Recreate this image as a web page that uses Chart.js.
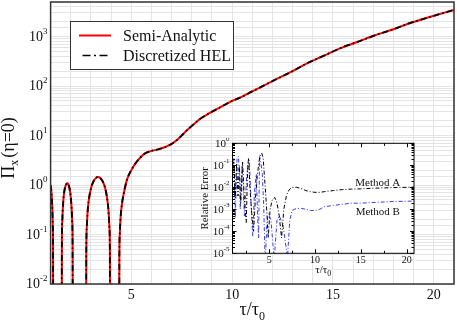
<!DOCTYPE html>
<html>
<head>
<meta charset="utf-8">
<script src="https://cdn.jsdelivr.net/npm/chart.js@4.4.1/dist/chart.umd.min.js"></script>
<style>
  html, body { margin: 0; padding: 0; background: #fff; }
  #wrap { position: relative; width: 457px; height: 323px; }
  #mainChart { position: absolute; left: 0; top: 0; }
  #insetChart { position: absolute; left: 195px; top: 138px; }
</style>
</head>
<body>
<div id="wrap">
  <canvas id="mainChart" width="457" height="323"></canvas>
  <canvas id="insetChart" width="225" height="142"></canvas>
</div>
<script>
// main curve
const tau = [1.0, 1.03, 1.06, 1.09, 1.11, 1.12, 1.13, 1.3, 1.55, 1.56, 1.58, 1.6, 1.65, 1.7, 1.76, 1.82, 1.88, 1.94, 1.99, 2.04, 2.07, 2.09, 2.1,
  2.4, 2.76, 2.77, 2.795, 2.83, 2.88, 3.0, 3.12, 3.24, 3.35, 3.47, 3.59, 3.71, 3.83, 3.88, 3.915, 3.94, 3.95, 4.15, 4.40,
  4.41, 4.43, 4.47, 4.55, 4.65, 4.79, 5.0, 5.2, 5.45, 5.7, 6.0, 6.28, 6.55, 6.78, 7.05, 7.35, 7.55, 7.77, 8.1, 8.43, 8.85,
  9.26, 9.6, 10.0, 10.42, 11.0, 12.0, 13.0, 13.74, 14.5, 15.4, 16.2, 17.05, 18.0, 18.72, 19.5, 20.0, 21.0];
const semiAnalytic = [1.0, 0.8, 0.55, 0.3, 0.15, 0.07, 0.001, 0.001, 0.001, 0.07, 0.19, 0.3, 0.6, 0.83, 1.0, 1.1, 1.03, 0.85, 0.62, 0.35, 0.19, 0.07, 0.001,
  0.001, 0.001, 0.045, 0.14, 0.27, 0.45, 0.85, 1.17, 1.38, 1.45, 1.38, 1.17, 0.85, 0.45, 0.27, 0.14, 0.045, 0.001, 0.001, 0.001,
  0.04, 0.1, 0.22, 0.45, 0.75, 1.3, 2.0, 2.7, 3.6, 4.4, 4.9, 5.2, 5.6, 6.1, 7.0, 8.7, 10.5, 12.9, 17, 22, 28,
  34.5, 41, 50, 59, 78, 126, 200, 292, 403, 590, 776, 1050, 1410, 1820, 2290, 2630, 3470];
const discretizedHEL = semiAnalytic.slice();

// inset: relative error
const tauA = [1.0, 1.15, 1.3, 1.45, 1.6, 1.75, 1.9, 2.1, 2.3, 2.5, 2.65, 2.75, 2.9, 3.1, 3.3, 3.5, 3.7, 3.9, 4.05, 4.2, 4.35, 4.5, 4.7, 4.9,
  5.1, 5.35, 5.6, 5.85, 6.1, 6.35, 6.6, 6.9, 7.2, 7.5, 8.0, 8.5, 9.0, 9.5, 10.0, 10.5, 11.0, 12.0, 13.0, 14.0, 15.0, 16.0, 17.0, 18.0, 19.0, 20.0, 20.8];
const methodA = [0.1, 0.158, 0.0032, 0.126, 0.004, 0.1, 0.002, 0.141, 0.0025, 0.00025, 0.063, 0.2, 0.01, 0.00063, 0.0001, 0.0032, 0.032, 0.158, 0.316, 0.355, 0.2, 0.025, 0.0016, 5e-5,
  0.001, 0.0028, 0.0035, 0.002, 0.0005, 5e-5, 0.001, 0.0045, 0.0079, 0.01, 0.01, 0.0087, 0.0071, 0.0063, 0.0059, 0.0059, 0.0063, 0.0071, 0.0079, 0.0083, 0.0085, 0.0089, 0.0093, 0.0095, 0.0098, 0.01, 0.0102];
const tauB = [1.0, 1.15, 1.3, 1.5, 1.66, 1.85, 2.05, 2.3, 2.55, 2.75, 2.85, 3.0, 3.2, 3.4, 3.6, 3.75, 3.85, 3.95, 4.1, 4.25, 4.4, 4.57, 4.75, 4.93,
  5.2, 5.55, 5.85, 6.1, 6.5, 7.0, 7.25, 7.5, 8.0, 8.5, 9.0, 9.5, 10.0, 10.5, 11.0, 12.0, 13.0, 14.0, 15.0, 16.0, 17.0, 18.0, 19.0, 20.0, 20.8];
const methodB = [0.063, 0.2, 0.0004, 0.224, 0.251, 0.001, 0.1, 0.0005, 0.032, 0.2, 0.126, 0.0032, 6.3e-5, 0.0063, 0.04, 0.00032, 5e-5, 0.251, 0.126, 0.04, 0.0016, 3.2e-6, 0.00025, 0.00063,
  0.00032, 5e-6, 0.00032, 0.0005, 0.0002, 6.3e-6, 0.00032, 0.00089, 0.0011, 0.0011, 0.001, 0.00089, 0.00087, 0.001, 0.0013, 0.0015, 0.0017, 0.0019, 0.0019, 0.002, 0.0021, 0.0022, 0.0023, 0.0023, 0.0024];

const mainDecades = [-2, -1, 0, 1, 2, 3];
const insetDecades = [-5, -4, -3, -2, -1, 0];
const insetTauTicks = [5, 10, 15, 20];

const SERIF = '"Liberation Serif", "DejaVu Serif", serif';

function drawPow(ctx, exp, right, y, big, small) {
  ctx.font = big + 'px ' + SERIF;
  const wb = ctx.measureText('10').width;
  ctx.font = small + 'px ' + SERIF;
  const es = exp < 0 ? '-' + (-exp) : String(exp);
  const ws = ctx.measureText(es).width;
  const x0 = right - wb - ws;
  ctx.textBaseline = 'alphabetic';
  ctx.textAlign = 'left';
  ctx.font = big + 'px ' + SERIF;
  ctx.fillText('10', x0, y + big * 0.31);
  ctx.font = small + 'px ' + SERIF;
  ctx.fillText(es, x0 + wb, y - big * 0.2);
}

const mainDecor = {
  id: 'mainDecor',
  afterDatasetsDraw(chart) {
    const ctx = chart.ctx, a = chart.chartArea, ys = chart.scales.y;
    ctx.save();
    ctx.strokeStyle = '#333';
    ctx.lineWidth = 1.5;
    ctx.strokeRect(a.left, a.top, a.right - a.left, a.bottom - a.top);
    ctx.fillStyle = '#111';
    mainDecades.forEach(e => drawPow(ctx, e, a.left - 3, ys.getPixelForValue(Math.pow(10, e)), 14, 9));

    // legend
    ctx.fillStyle = '#fff';
    ctx.fillRect(70, 21, 163, 48);
    ctx.strokeStyle = '#333';
    ctx.lineWidth = 1;
    ctx.strokeRect(70.5, 21.5, 163, 48);
    ctx.strokeStyle = '#ff0000';
    ctx.lineWidth = 2;
    ctx.beginPath(); ctx.moveTo(79, 35.5); ctx.lineTo(111, 35.5); ctx.stroke();
    ctx.strokeStyle = '#000';
    ctx.lineWidth = 1.6;
    ctx.setLineDash([8, 3.5, 2, 3.5]);
    ctx.lineDashOffset = 13.5;
    ctx.beginPath(); ctx.moveTo(79, 55.5); ctx.lineTo(111, 55.5); ctx.stroke();
    ctx.setLineDash([]);
    ctx.fillStyle = '#111';
    ctx.font = '16px ' + SERIF;
    ctx.textAlign = 'left';
    ctx.textBaseline = 'alphabetic';
    ctx.fillText('Semi-Analytic', 123, 41);
    ctx.fillText('Discretized HEL', 123, 61);

    // axis titles
    ctx.font = '18px ' + SERIF;
    const cx = (a.left + a.right) / 2;
    const w1 = ctx.measureText('τ/τ').width;
    ctx.font = '12px ' + SERIF;
    const w2 = ctx.measureText('0').width;
    ctx.font = '18px ' + SERIF;
    ctx.fillText('τ/τ', cx - (w1 + w2) / 2, 315);
    ctx.font = '12px ' + SERIF;
    ctx.fillText('0', cx - (w1 + w2) / 2 + w1, 320);

    ctx.translate(14, (a.top + a.bottom) / 2 + 5);
    ctx.rotate(-Math.PI / 2);
    ctx.font = '18px ' + SERIF;
    const p1 = ctx.measureText('Π').width;
    const p3 = ctx.measureText('(η=0)').width;
    ctx.font = '12px ' + SERIF;
    const p2 = ctx.measureText('x').width;
    const sx = -(p1 + p2 + 2 + p3) / 2;
    ctx.font = '18px ' + SERIF;
    ctx.fillText('Π', sx, 0);
    ctx.fillText('(η=0)', sx + p1 + p2 + 2, 0);
    ctx.font = '12px ' + SERIF;
    ctx.fillText('x', sx + p1, 4);
    ctx.restore();
  }
};

new Chart(document.getElementById('mainChart').getContext('2d'), {
  type: 'line',
  data: {
    datasets: [{
      label: 'Semi-Analytic',
      data: tau.map((t, i) => ({ x: t, y: semiAnalytic[i] })),
      borderColor: '#ff0000',
      borderWidth: 2,
      pointRadius: 0,
      order: 2,
      cubicInterpolationMode: 'monotone'
    }, {
      label: 'Discretized HEL',
      data: tau.map((t, i) => ({ x: t, y: discretizedHEL[i] })),
      borderColor: '#000',
      borderWidth: 1.8,
      borderDash: [6, 3, 1.5, 3],
      pointRadius: 0,
      order: 1,
      cubicInterpolationMode: 'monotone'
    }]
  },
  options: {
    responsive: false,
    animation: false,
    devicePixelRatio: 1,
    layout: { padding: { top: 2, right: 1, left: 0, bottom: 0 } },
    plugins: { legend: { display: false }, tooltip: { enabled: false } },
    scales: {
      x: {
        type: 'linear', min: 1, max: 21,
        afterFit: s => { s.height = 39; },
        grid: { color: '#e4e4e4', drawTicks: false },
        border: { display: false },
        ticks: {
          stepSize: 1, padding: 3, color: '#111', maxRotation: 0, autoSkip: false,
          font: { family: SERIF, size: 14 },
          callback: v => (v % 5 === 0 ? String(v) : '')
        }
      },
      y: {
        type: 'logarithmic', min: 0.01, max: 5000,
        afterFit: s => { s.width = 50.6; },
        grid: { color: '#e4e4e4', drawTicks: false },
        border: { display: false },
        ticks: { display: false, autoSkip: false, callback: () => '' }
      }
    }
  },
  plugins: [mainDecor]
});

const insetDecor = {
  id: 'insetDecor',
  beforeDatasetsDraw(chart) {
    const ctx = chart.ctx, a = chart.chartArea;
    ctx.save();
    ctx.fillStyle = '#fff';
    ctx.fillRect(a.left, a.top, a.right - a.left, a.bottom - a.top);
    ctx.restore();
  },
  afterDatasetsDraw(chart) {
    const ctx = chart.ctx, a = chart.chartArea, xs = chart.scales.x, ys = chart.scales.y;
    ctx.save();
    ctx.strokeStyle = '#000';
    ctx.lineWidth = 1;
    ctx.strokeRect(a.left, a.top, a.right - a.left, a.bottom - a.top);
    ctx.beginPath();
    [2.5, 5, 7.5, 10, 12.5, 15, 17.5, 20].forEach(v => {
      const px = Math.round(xs.getPixelForValue(v)) + 0.5;
      const l = v % 5 === 0 ? 4 : 2.5;
      ctx.moveTo(px, a.bottom); ctx.lineTo(px, a.bottom - l);
      ctx.moveTo(px, a.top); ctx.lineTo(px, a.top + l);
    });
    insetDecades.forEach(e => {
      for (let m = 1; m <= 9; m++) {
        if (e === 0 && m > 1) break;
        const py = Math.round(ys.getPixelForValue(m * Math.pow(10, e))) + 0.5;
        const l = m === 1 ? 4 : 2.5;
        ctx.moveTo(a.left, py); ctx.lineTo(a.left + l, py);
        ctx.moveTo(a.right, py); ctx.lineTo(a.right - l, py);
      }
    });
    ctx.stroke();

    ctx.fillStyle = '#111';
    insetDecades.forEach(e => drawPow(ctx, e, a.left - 3, ys.getPixelForValue(Math.pow(10, e)), 11, 7));

    ctx.font = '10px ' + SERIF;
    ctx.textAlign = 'center';
    ctx.textBaseline = 'middle';
    insetTauTicks.forEach(v => ctx.fillText(String(v), xs.getPixelForValue(v), a.bottom + 7));

    ctx.textBaseline = 'alphabetic';
    ctx.font = '11px ' + SERIF;
    ctx.fillText('Method A', xs.getPixelForValue(16.85), ys.getPixelForValue(0.0166) + 4);
    ctx.fillText('Method B', xs.getPixelForValue(16.85), ys.getPixelForValue(0.00083) + 4);

    // x title
    ctx.textAlign = 'left';
    const cx = (a.left + a.right) / 2;
    const w1 = ctx.measureText('τ/τ').width;
    ctx.font = '8px ' + SERIF;
    const w2 = ctx.measureText('0').width;
    ctx.font = '11px ' + SERIF;
    ctx.fillText('τ/τ', cx - (w1 + w2) / 2, a.bottom + 20);
    ctx.font = '8px ' + SERIF;
    ctx.fillText('0', cx - (w1 + w2) / 2 + w1, a.bottom + 23);

    // y title
    ctx.translate(10, (a.top + a.bottom) / 2);
    ctx.rotate(-Math.PI / 2);
    ctx.font = '11px ' + SERIF;
    ctx.textAlign = 'center';
    ctx.fillText('Relative Error', 0, 3);
    ctx.restore();
  }
};

new Chart(document.getElementById('insetChart').getContext('2d'), {
  type: 'line',
  data: {
    datasets: [{
      label: 'Method A',
      data: tauA.map((t, i) => ({ x: t, y: methodA[i] })),
      borderColor: '#000',
      borderWidth: 1,
      borderDash: [4, 2, 1, 2],
      pointRadius: 0,
      tension: 0
    }, {
      label: 'Method B',
      data: tauB.map((t, i) => ({ x: t, y: methodB[i] })),
      borderColor: '#3a3af0',
      borderWidth: 1,
      borderDash: [4, 2, 1, 2],
      pointRadius: 0,
      tension: 0
    }]
  },
  options: {
    responsive: false,
    animation: false,
    devicePixelRatio: 1,
    layout: { padding: { top: 5.3, right: 6, left: 0, bottom: 0 } },
    plugins: { legend: { display: false }, tooltip: { enabled: false } },
    scales: {
      x: {
        type: 'linear', min: 1, max: 20.8,
        afterFit: s => { s.height = 26.7; },
        grid: { display: false },
        border: { display: false },
        ticks: { display: false }
      },
      y: {
        type: 'logarithmic', min: 1e-5, max: 1,
        afterFit: s => { s.width = 37.5; },
        grid: { display: false },
        border: { display: false },
        ticks: { display: false }
      }
    }
  },
  plugins: [insetDecor]
});
</script>
</body>
</html>
